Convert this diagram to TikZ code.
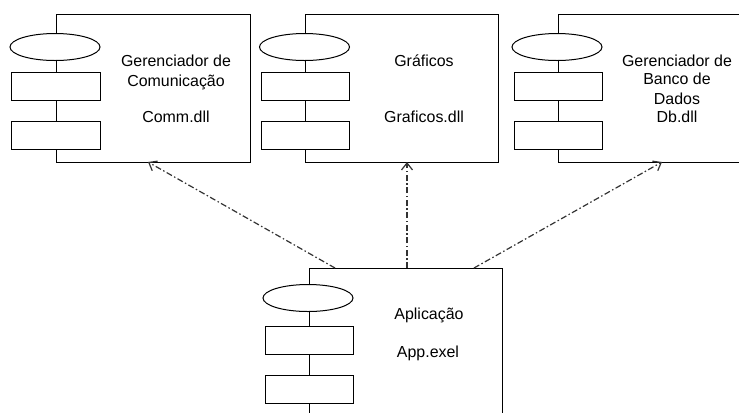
\documentclass[tikz,border=0pt]{standalone}
\usepackage{fontspec}
\setmainfont{Liberation Sans}
\usetikzlibrary{shapes.geometric,arrows.meta}

\begin{document}
\begin{tikzpicture}[x=1bp,y=-1bp,line width=1bp,
  compbox/.style={draw,minimum width=193bp,minimum height=148bp,inner sep=0pt},
  iface/.style={draw,fill=white,ellipse,minimum width=90bp,minimum height=27bp,inner sep=0pt},
  port/.style={draw,fill=white,minimum width=88bp,minimum height=28bp,inner sep=0pt},
  lbl/.style={font=\fontsize{16}{19}\selectfont,inner sep=0pt,text height=11bp,text depth=3bp},
  uses/.style={draw=black!80,line width=1.2bp,dash pattern=on 6bp off 2.5bp on 1.5bp off 2.5bp,
    -{Straight Barb[length=7bp,width=11bp]}}]
\useasboundingbox (0,0) rectangle (739,412);
\clip (0,0) rectangle (739,412);
\node[compbox] (comm) at (153.5,88) {};
\node[iface] (commi) at (55,47) {};
\node[port] (commp1) at (56,86.5) {};
\node[port] (commp2) at (56,135.5) {};
\node[lbl] (comm1) at (176,62) {Gerenciador de};
\node[lbl] (comm2) at (176,82) {Comunicação};
\node[lbl] (comm3) at (176,118) {Comm.dll};
\node[compbox] (gfx) at (401.5,88) {};
\node[iface] (gfxi) at (304.5,47) {};
\node[port] (gfxp1) at (305,86.5) {};
\node[port] (gfxp2) at (305,135.5) {};
\node[lbl] (gfx1) at (424,62) {Gráficos};
\node[lbl] (gfx2) at (424,118) {Graficos.dll};
\node[compbox] (db) at (655,88) {};
\node[iface] (dbi) at (557,47) {};
\node[port] (dbp1) at (558,86.5) {};
\node[port] (dbp2) at (558,135.5) {};
\node[lbl] (db1) at (677,62) {Gerenciador de};
\node[lbl] (db2) at (677,80) {Banco de};
\node[lbl] (db3) at (677,100) {Dados};
\node[lbl] (db4) at (677,118) {Db.dll};
\node[compbox] (app) at (405.5,342) {};
\node[iface] (appi) at (308,298) {};
\node[port] (appp1) at (309,340.5) {};
\node[port] (appp2) at (309,389) {};
\node[lbl] (app1) at (429,315) {Aplicação};
\node[lbl] (app2) at (428,353) {App.exel};
\coordinate (s1) at (335,268);
\coordinate (s2) at (407,268);
\coordinate (s3) at (474,268);
\coordinate (t1) at (148,162);
\coordinate (t2) at (407,162);
\coordinate (t3) at (662,162);
\draw[uses] (s1) -- (t1);
\draw[uses] (s2) -- (t2);
\draw[uses] (s3) -- (t3);
\end{tikzpicture}
\end{document}
